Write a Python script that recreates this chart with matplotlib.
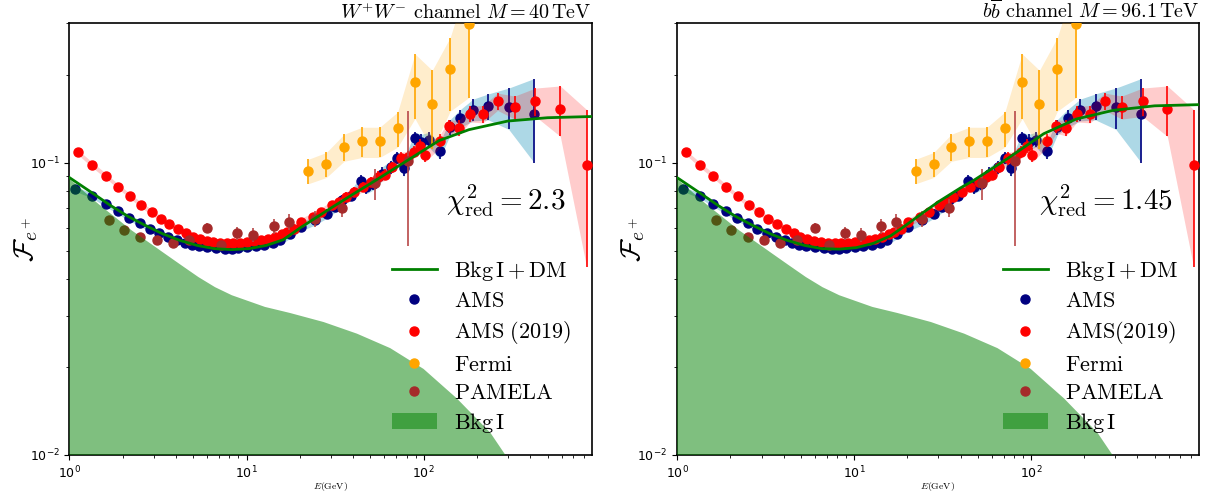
import numpy as np
import matplotlib
matplotlib.use("Agg")
import matplotlib.pyplot as plt
from matplotlib.lines import Line2D
from matplotlib.patches import Patch

plt.rcParams['mathtext.fontset'] = 'cm'

# AMS positron fraction
ams_E = [1.08, 1.34, 1.60, 1.88, 2.17, 2.51, 2.84, 3.21, 3.62, 4.05, 4.49, 4.91, 5.38, 6.01,
         6.73, 7.53, 8.24, 9.0, 10.1, 11.3, 12.6, 14.1, 15.4, 17.5, 20.2, 24.2, 28.3, 31.6,
         34.6, 38.7, 44.3, 47.4, 51.9, 58.0, 65.0, 71.0, 77.0, 89.0, 97.0, 107, 123, 141,
         161, 190, 232, 302, 420]
ams_F = [0.0813, 0.0772, 0.0723, 0.0682, 0.0648, 0.0621, 0.0594, 0.0575, 0.0556, 0.0545,
         0.0531, 0.0524, 0.0518, 0.0514, 0.0512, 0.0508, 0.0508, 0.0510, 0.0514, 0.0518,
         0.0524, 0.0532, 0.0542, 0.0570, 0.0603, 0.0636, 0.0670, 0.0706, 0.0743, 0.0772,
         0.0868, 0.0823, 0.0846, 0.0915, 0.0965, 0.104, 0.0957, 0.121, 0.118, 0.120, 0.110,
         0.1325, 0.142, 0.152, 0.156, 0.155, 0.147]
ams_err = [0.0015, 0.0015, 0.0015, 0.0015, 0.0015, 0.0015, 0.0015, 0.0015, 0.0015, 0.0015,
           0.0015, 0.0015, 0.0015, 0.0015, 0.0015, 0.0015, 0.0015, 0.0015, 0.0015, 0.0015,
           0.0015, 0.0018, 0.002, 0.002, 0.002, 0.0025, 0.0025, 0.003, 0.003, 0.003,
           0.004, 0.004, 0.004, 0.005, 0.005, 0.005, 0.006, 0.006, 0.007, 0.007, 0.007,
           0.008, 0.010, 0.013, 0.016, 0.025, 0.047]

# AMS (2019)
ams19_E = [1.12, 1.34, 1.60, 1.89, 2.21, 2.54, 2.91, 3.28, 3.67, 4.11, 4.55, 4.98, 5.45, 5.96,
           6.49, 7.10, 7.77, 8.42, 9.21, 10.1, 11.0, 12.1, 13.2, 14.4, 15.8, 16.8, 18.4, 20.2,
           23.6, 26.4, 30.3, 33.1, 36.2, 40.5, 45.3, 50.6, 55.4, 60.6, 66.3, 74.2, 81.1, 88.0,
           95.0, 102, 124, 139, 158, 182, 216, 261, 326, 427, 590, 830]
ams19_F = [0.1084, 0.0985, 0.0903, 0.0828, 0.0767, 0.0717, 0.0677, 0.0643, 0.0618, 0.0594,
           0.0574, 0.0559, 0.0547, 0.0539, 0.0535, 0.0532, 0.0531, 0.0531, 0.0532, 0.0535,
           0.0538, 0.0542, 0.0549, 0.0556, 0.0568, 0.0578, 0.0595, 0.0625, 0.0653, 0.0679,
           0.0715, 0.0734, 0.0763, 0.0794, 0.0826, 0.0859, 0.0894, 0.0910, 0.0965, 0.1035,
           0.1045, 0.1086, 0.1143, 0.1066, 0.119, 0.133, 0.1315, 0.1468, 0.1468, 0.162, 0.155,
           0.162, 0.153, 0.098]
ams19_err = [0.002, 0.002, 0.0018, 0.0015, 0.0015, 0.0015, 0.0015, 0.0015, 0.0015, 0.0015,
             0.0015, 0.0015, 0.0015, 0.0015, 0.0015, 0.0015, 0.0015, 0.0015, 0.0015, 0.0015,
             0.0015, 0.0015, 0.0015, 0.0015, 0.0018, 0.0018, 0.002, 0.002, 0.002, 0.0022,
             0.0025, 0.0025, 0.003, 0.003, 0.003, 0.0035, 0.004, 0.004, 0.004, 0.005, 0.005,
             0.005, 0.006, 0.006, 0.006, 0.007, 0.008, 0.009, 0.010, 0.011, 0.014, 0.018,
             0.030, 0.054]

# Fermi
fermi_E = [22.3, 28.2, 35.5, 44.9, 56.4, 71.2, 89.2, 111.7, 141, 179.5]
fermi_F = [0.0937, 0.0987, 0.1131, 0.1182, 0.1182, 0.131, 0.1885, 0.159, 0.209, 0.297]
fermi_err = [0.009, 0.0097, 0.012, 0.014, 0.014, 0.018, 0.047, 0.048, 0.059, 0.13]

# PAMELA
pamela_E = [1.67, 2.03, 2.51, 3.10, 3.84, 4.76, 6.01, 7.2, 8.85, 10.9, 14.2, 17.3, 24.2,
            34.6, 53, 81]
pamela_F = [0.0638, 0.0590, 0.0559, 0.0545, 0.0532, 0.0545, 0.0598, 0.0521, 0.0574, 0.0566,
            0.0606, 0.0627, 0.0644, 0.070, 0.085, 0.101]
pamela_err = [0.002, 0.0018, 0.0015, 0.0015, 0.0015, 0.0018, 0.0025, 0.002, 0.003, 0.003,
              0.0035, 0.004, 0.004, 0.005, 0.0105, 0.049]

# background only (Bkg I)
bkg_E = [1.0, 1.455, 2.25, 2.79, 3.46, 4.3, 5.35, 6.64, 8.25, 12.7, 17.6, 27.2, 42, 64.7,
         99.7, 154, 238, 289, 450, 900]
bkg_F = [0.0880, 0.0723, 0.0586, 0.0535, 0.0488, 0.0445, 0.0406, 0.0375, 0.0352, 0.0321,
         0.0306, 0.0285, 0.0260, 0.0232, 0.0197, 0.0156, 0.0119, 0.0100, 0.0068, 0.0035]

# Bkg I + DM, W+W- channel
ww_E = [1.0, 1.37, 1.71, 2.14, 2.68, 3.36, 4.2, 5.26, 6.58, 8.24, 10.3, 12.9, 16.1, 20.2,
        25, 30, 40, 50, 75, 122, 180, 298, 500, 900]
ww_F = [0.0889, 0.0782, 0.0713, 0.0655, 0.0610, 0.0571, 0.0542, 0.0521, 0.0508, 0.0504,
        0.0508, 0.0521, 0.0545, 0.0600, 0.0652, 0.0700, 0.0781, 0.0848, 0.0989, 0.119,
        0.1297, 0.1388, 0.1425, 0.1439]

# Bkg I + DM, bb channel
bb_E = [1.0, 1.37, 1.71, 2.14, 2.68, 3.36, 4.2, 5.26, 6.58, 8.24, 10.3, 12.9, 16.1, 19.2,
        25, 30, 40, 47.5, 75, 118, 180, 291, 500, 900]
bb_F = [0.0889, 0.0782, 0.0713, 0.0655, 0.0610, 0.0571, 0.0542, 0.0521, 0.0508, 0.0506,
        0.0512, 0.0530, 0.0562, 0.0605, 0.0680, 0.0735, 0.0820, 0.0870, 0.104, 0.1256,
        0.141, 0.151, 0.1565, 0.158]


def band(ax, E, F, err, **kw):
    F = np.array(F)
    err = np.array(err)
    ax.fill_between(E, F - err, F + err, lw=0, **kw)


def panel(ax, model_E, model_F, title, chi, ams19_label):
    ms = 6.5
    band(ax, ams_E, ams_F, ams_err, color='lightblue', zorder=1)
    ax.errorbar(ams_E, ams_F, yerr=ams_err, fmt='o', color='navy', ms=ms, elinewidth=1.2, zorder=2)
    band(ax, ams19_E, ams19_F, ams19_err, color='red', alpha=0.2, zorder=3)
    ax.errorbar(ams19_E, ams19_F, yerr=ams19_err, fmt='o', color='red', ms=ms, elinewidth=1.2, zorder=4)
    band(ax, fermi_E, fermi_F, fermi_err, color='orange', alpha=0.2, zorder=5)
    ax.errorbar(fermi_E, fermi_F, yerr=fermi_err, fmt='o', color='orange', ms=ms, elinewidth=1.2, zorder=6)
    ax.errorbar(pamela_E, pamela_F, yerr=pamela_err, fmt='o', color='brown', ms=ms, elinewidth=1.2,
                ecolor='#b84848', zorder=6)
    ax.fill_between(bkg_E, 1e-3, bkg_F, color='green', alpha=0.5, lw=0, zorder=7)
    ax.plot(model_E, model_F, color='green', lw=2, zorder=8)

    ax.set_xscale('log')
    ax.set_yscale('log')
    ax.set_xlim(1, 890)
    ax.set_ylim(0.01, 0.3)
    ax.set_xlabel(r'$E(\mathrm{GeV})$', fontsize=7, labelpad=-1)
    ax.set_ylabel(r'$\mathcal{F}_{e^+}$', fontsize=20)
    ax.yaxis.set_label_coords(-0.057, 0.5)
    ax.tick_params(labelsize=9)
    ax.set_title(title, loc='right', fontsize=14.5, pad=1)
    ax.text(0.95, 0.59, chi, transform=ax.transAxes, ha='right', va='center', fontsize=21)
    for s in ax.spines.values():
        s.set_linewidth(1.2)

    handles = [
        Line2D([], [], color='green', lw=2),
        Line2D([], [], marker='o', ls='none', color='navy', ms=ms),
        Line2D([], [], marker='o', ls='none', color='red', ms=ms),
        Line2D([], [], marker='o', ls='none', color='orange', ms=ms),
        Line2D([], [], marker='o', ls='none', color='brown', ms=ms),
        Patch(facecolor='#40a040', lw=0),
    ]
    labels = [r'$\mathrm{Bkg\,I + DM}$', r'$\mathrm{AMS}$', ams19_label, r'$\mathrm{Fermi}$',
              r'$\mathrm{PAMELA}$', r'$\mathrm{Bkg\,I}$']
    leg = ax.legend(handles, labels, loc='lower right', fontsize=16, frameon=False,
                    labelspacing=0.37, handlelength=2.0, handletextpad=0.8)
    leg.set_zorder(20)


fig = plt.figure(figsize=(12.08, 4.94), dpi=100)
ax1 = fig.add_axes([0.0575, 0.079, 0.4325, 0.874])
ax2 = fig.add_axes([0.5605, 0.079, 0.4320, 0.874])

panel(ax1, ww_E, ww_F, r'$W^{+}W^{-}\ \mathrm{channel}\ M = 40\,\mathrm{TeV}$',
      r'$\chi^2_{\rm red} = 2.3$', r'$\mathrm{AMS\ (2019)}$')
panel(ax2, bb_E, bb_F, r'$b\overline{b}\ \mathrm{channel}\ M = 96.1\,\mathrm{TeV}$',
      r'$\chi^2_{\rm red} = 1.45$', r'$\mathrm{AMS(2019)}$')

plt.savefig("out.png", dpi=100)
